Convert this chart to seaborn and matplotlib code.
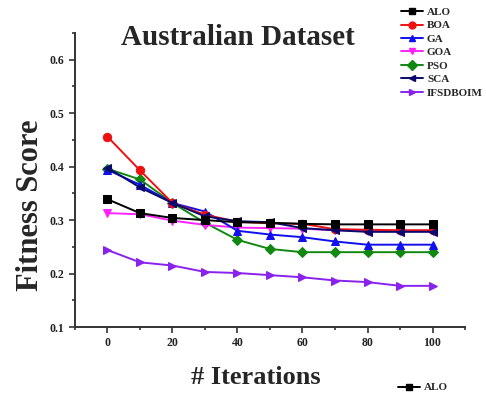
import matplotlib
matplotlib.use("Agg")
import matplotlib.pyplot as plt
from matplotlib.lines import Line2D
from matplotlib.ticker import MultipleLocator
import seaborn as sns
import pandas as pd

sns.set_style("white")
plt.rcParams["font.family"] = ["Liberation Serif", "DejaVu Serif"]
plt.rcParams["font.weight"] = "bold"

iterations = [0, 10, 20, 30, 40, 50, 60, 70, 80, 90, 100]
alo = [0.339, 0.313, 0.304, 0.300, 0.296, 0.295, 0.293, 0.292, 0.292, 0.292, 0.292]
boa = [0.456, 0.393, 0.332, 0.310, 0.297, 0.294, 0.293, 0.283, 0.282, 0.281, 0.281]
ga = [0.394, 0.366, 0.332, 0.316, 0.280, 0.273, 0.268, 0.260, 0.254, 0.254, 0.254]
goa = [0.313, 0.311, 0.299, 0.291, 0.286, 0.285, 0.284, 0.281, 0.280, 0.280, 0.280]
pso = [0.396, 0.376, 0.332, 0.295, 0.263, 0.246, 0.240, 0.240, 0.240, 0.240, 0.240]
sca = [0.398, 0.361, 0.332, 0.307, 0.298, 0.296, 0.285, 0.281, 0.278, 0.278, 0.278]
ifsdboim = [0.244, 0.221, 0.215, 0.203, 0.201, 0.197, 0.193, 0.187, 0.184, 0.177, 0.177]

names = ["ALO", "BOA", "GA", "GOA", "PSO", "SCA", "IFSDBOIM"]
series = [alo, boa, ga, goa, pso, sca, ifsdboim]
colors = ["#000000", "#ee1111", "#1010ee", "#ff22ff", "#118811", "#0a0a6e", "#8a22ee"]
markers = ["s", "o", "^", "v", "D", "<", ">"]
zorders = [9, 6, 5, 4, 3, 7, 2]

df = pd.DataFrame({
    "Iteration": iterations * len(names),
    "Fitness": [v for s in series for v in s],
    "Algorithm": [n for n in names for _ in iterations],
})

fig = plt.figure(figsize=(4.86, 3.96), dpi=100)
ax = fig.add_axes([0.1543, 0.1742, 0.8025, 0.7425])

handles = []
for name, color, marker, z in zip(names, colors, markers, zorders):
    sub = df[df["Algorithm"] == name]
    sns.lineplot(data=sub, x="Iteration", y="Fitness", ax=ax, color=color,
                 marker=marker, markersize=6 if marker != "D" else 5,
                 markeredgecolor=color, linewidth=1.4, zorder=z, legend=False)
    handles.append(Line2D([], [], color=color, marker=marker, markersize=5,
                          markeredgecolor=color, linewidth=1.4, label=name))

ax.set_xlim(-10, 110)
ax.set_ylim(0.1, 0.65)
ax.xaxis.set_major_locator(MultipleLocator(20))
ax.xaxis.set_minor_locator(MultipleLocator(10))
ax.yaxis.set_minor_locator(MultipleLocator(0.05))
ax.set_yticks([0.1, 0.2, 0.3, 0.4, 0.5, 0.6])
ax.set_yticklabels(["0.1", "0.2", "0.3", "0.4", "0.5", "0.6"])
ax.tick_params(which="both", direction="out", length=4, width=1.2,
               labelsize=8.5, bottom=True, left=True, colors="#333333",
               labelcolor="#222222")
ax.tick_params(which="minor", length=2.5)
for lab in ax.get_xticklabels() + ax.get_yticklabels():
    lab.set_fontweight("bold")
sns.despine(ax=ax)
for sp in ("left", "bottom"):
    ax.spines[sp].set_linewidth(1.4)
    ax.spines[sp].set_color("#333333")

ax.set_xlabel("# Iterations", fontsize=19, fontweight="bold")
ax.set_ylabel("Fitness Score", fontsize=22, fontweight="bold")
ax.xaxis.set_label_coords(0.464, -0.133)
ax.yaxis.set_label_coords(-0.077, 0.415)
ax.text(0.418, 0.986, "Australian Dataset", transform=ax.transAxes,
        ha="center", va="center", fontsize=21, fontweight="bold")

fig.legend(handles=handles, loc="upper left", bbox_to_anchor=(0.81, 1.0),
           frameon=False, handlelength=2.0, handletextpad=0.35,
           labelspacing=0.33, borderaxespad=0.25, prop={"weight": "bold", "size": 8})

fig.legend(handles=[handles[0]], loc="upper left", bbox_to_anchor=(0.81, 0.045),
           frameon=False, handlelength=2.0, handletextpad=0.35,
           borderaxespad=0.0, prop={"weight": "bold", "size": 8})

fig.savefig("out.png", dpi=100)
